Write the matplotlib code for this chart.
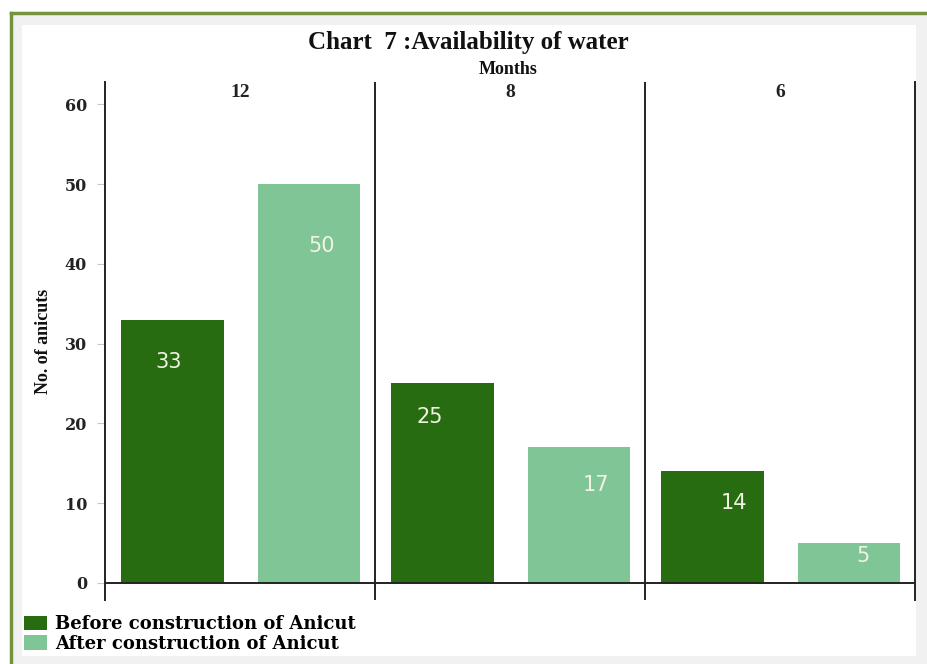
import matplotlib
matplotlib.use("Agg")
import matplotlib.pyplot as plt
from matplotlib.patches import Rectangle, Patch
from matplotlib.lines import Line2D
import numpy as np

# data
months = ["12", "8", "6"]
before = [33, 25, 14]
after = [50, 17, 5]
series_names = ["Before construction of Anicut", "After construction of Anicut"]
yticks = [0, 10, 20, 30, 40, 50, 60]

dark = "#286c11"
light = "#7fc596"
serif = "Liberation Serif"

W, H = 928, 664
fig = plt.figure(figsize=(W / 100, H / 100), dpi=100, facecolor="white")

# frame: grey card with green border on top/left, white panel inside
fig.patches.append(Rectangle((11 / W, 0), 1, 1 - 13 / H, transform=fig.transFigure,
                             facecolor="#f1f1f1", edgecolor="none", zorder=-3))
fig.patches.append(Rectangle((22 / W, 1 - 656 / H), (916 - 22) / W, (656 - 25) / H,
                             transform=fig.transFigure, facecolor="white",
                             edgecolor="none", zorder=-2))
fig.lines.append(Line2D([11 / W, 1], [1 - 13 / H, 1 - 13 / H], transform=fig.transFigure,
                        color="#76923c", lw=2.5))
fig.lines.append(Line2D([11 / W, 11 / W], [0, 1 - 13 / H], transform=fig.transFigure,
                        color="#76923c", lw=2.5))

# axes box: x 105..915, y 82..600 (pixels)
ax = fig.add_axes([105 / W, 1 - 600 / H, (915 - 105) / W, (600 - 82) / H])
ax.set_facecolor("none")
ax.set_xlim(0, 3)
ax.set_ylim(-2.15, 62.8)

x = np.arange(len(months))
w = 0.378
b1 = ax.bar(x + 0.25, before, w, color=dark, zorder=2)
b2 = ax.bar(x + 0.755, after, w, color=light, zorder=2)

# value labels inside bars (offsets in pixels: dx, dy below top)
offs_before = [(-4, 42), (-13, 34), (21, 32)]
offs_after = [(13, 62), (17, 38), (14, 13)]
for bars, vals, offs in [(b1, before, offs_before), (b2, after, offs_after)]:
    for r, v, (dx, dy) in zip(bars, vals, offs):
        ax.annotate(str(v), (r.get_x() + r.get_width() / 2, v),
                    xytext=(dx * 0.72, -dy * 0.72), textcoords="offset points",
                    ha="center", va="center", color="#f3f3e4", fontsize=15,
                    family="DejaVu Sans", zorder=3)

ax.axhline(0, color="#222222", lw=1.4, zorder=3)
for sep in [1, 2]:
    ax.axvline(sep, color="#222222", lw=1.4, zorder=3)

for s in ["top", "bottom"]:
    ax.spines[s].set_visible(False)
for s in ["left", "right"]:
    ax.spines[s].set_color("#222222")
    ax.spines[s].set_linewidth(1.4)

ax.set_xticks([])
ax.set_yticks(yticks)
ax.set_yticklabels([str(t) for t in yticks], family="DejaVu Serif", fontweight="bold",
                   fontsize=11.5, color="#222222")
ax.tick_params(axis="y", length=6, color="#c8c8c8", pad=7)

for i, m in enumerate(months):
    ax.text(i + 0.5, 0.98, m, transform=ax.get_xaxis_transform(), ha="center",
            va="center", family=serif, fontweight="bold", fontsize=14, color="#222222")

ax.set_ylabel("No. of anicuts", family=serif, fontweight="bold", fontsize=13,
              labelpad=9, color="#111111")

fig.text(468 / W, 1 - 43 / H, "Chart  7 :Availability of water", ha="center",
         va="center", family=serif, fontweight="bold", fontsize=18, color="#111111")
fig.text(508 / W, 1 - 70 / H, "Months", ha="center", va="center", family=serif,
         fontweight="bold", fontsize=13, color="#111111")

handles = [Patch(facecolor=dark), Patch(facecolor=light)]
fig.legend(handles, series_names, loc="upper left", bbox_to_anchor=(24 / W, 1 - 615 / H),
           frameon=False, borderpad=0, borderaxespad=0, handlelength=1.25,
           handleheight=0.85, handletextpad=0.45, labelspacing=0.1,
           prop={"family": "DejaVu Serif", "weight": "bold", "size": 13})

fig.savefig("out.png", dpi=100, facecolor="white")
